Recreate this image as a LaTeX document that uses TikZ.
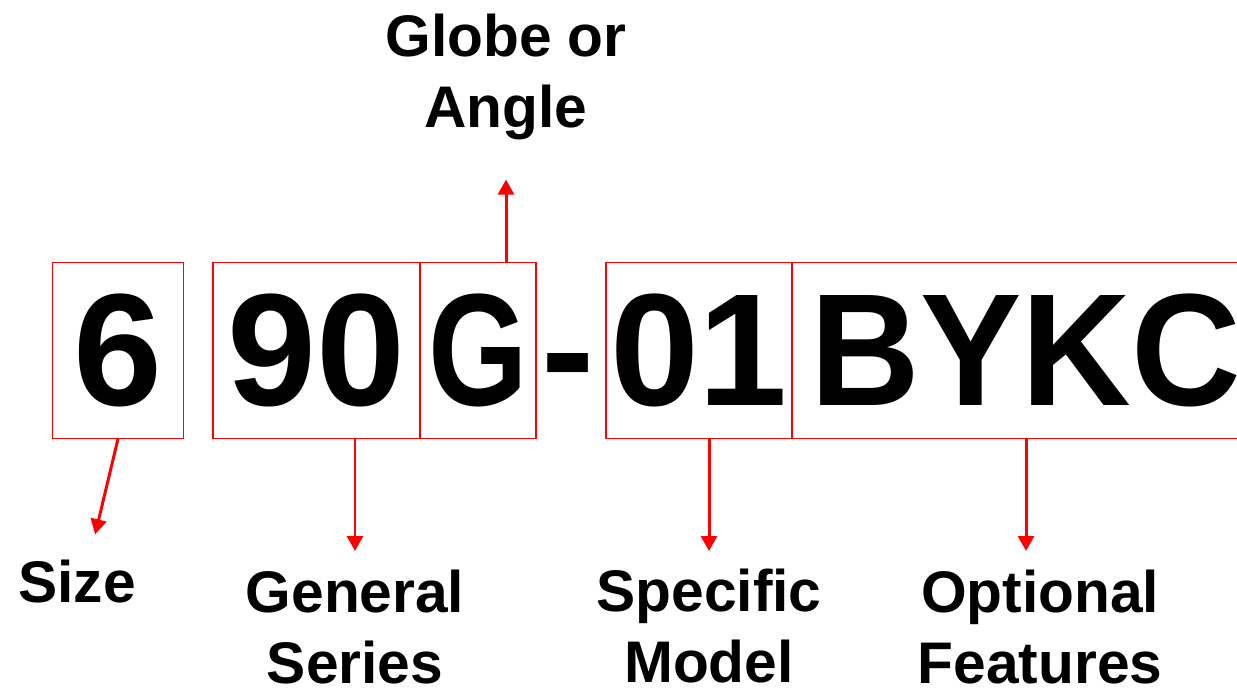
\documentclass[tikz,border=0pt]{standalone}
\usepackage{fontspec}
\usepackage{graphicx}
\setmainfont{Liberation Sans}
\usetikzlibrary{arrows.meta}

% letters of the model number are set a little narrower
\newcommand{\narrowed}[2]{\scalebox{#1}[1]{#2}}

\begin{document}
\begin{tikzpicture}[x = 0.02cm, y = -0.02cm,
        partbox/.style = {draw = red, line width = 0.7pt, inner sep = 0pt, minimum height = 3.51cm, font = \fontsize{91}{100}\selectfont\bfseries},
        lab/.style = {anchor = north, inner sep = 0pt, align = center, font = \fontsize{33.4}{40.4}\selectfont\bfseries},
        pointer/.style = {red, line width = 1.7pt, -{Triangle[width = 0.32cm, length = 0.3cm]}}]
    \useasboundingbox (0, 0) rectangle (1237, 695);
    % the model number, cut into its parts
    \node[partbox, minimum width = 2.61cm] (sizebox) at (118, 350.5) {6};
    \node[partbox, minimum width = 4.14cm] (seriesbox) at (316.5, 350.5) {90};
    \node[partbox, minimum width = 2.32cm] (formbox) at (478, 350.5) {\narrowed{0.8}{G}};
    \node[anchor = base, inner sep = 0pt, font = \fontsize{91}{100}\selectfont\bfseries] (dash) at (568.5, 405) {-};
    \node[partbox, minimum width = 3.72cm] (modelbox) at (699, 350.5) {01};
    \node[partbox, minimum width = 9.36cm] (optbox) at (1026, 350.5) {\narrowed{0.95}{BYKC}};
    % what each part stands for
    \node[lab] (globe) at (506, 14) {Globe or\\Angle};
    \node[lab] (size) at (77, 560) {Size};
    \node[lab] (series) at (355, 570) {General\\Series};
    \node[lab] (model) at (709, 569) {Specific\\Model};
    \node[lab] (options) at (1040, 570) {Optional\\Features};
    \draw[pointer, shorten > = 0.78cm] (formbox.north -| globe.south) -- (globe.south);
    \draw[pointer, shorten > = 0.53cm] (sizebox.south) -- ([xshift = 0.24cm]size.north);
    \draw[pointer, shorten > = 0.38cm] (seriesbox.south -| series.north) -- (series.north);
    \draw[pointer, shorten > = 0.36cm] (modelbox.south -| model.north) -- (model.north);
    \draw[pointer, shorten > = 0.38cm] (optbox.south) -- (optbox.south |- options.north);
\end{tikzpicture}
\end{document}
